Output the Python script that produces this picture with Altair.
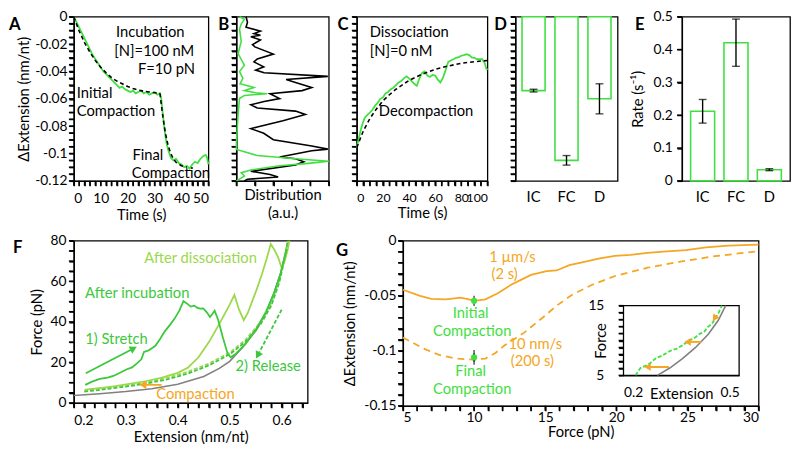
import altair as alt
import pandas as pd

FONT = "Lato"
GREEN = "#40e040"
DKGREEN = "#3cc83c"
LTGREEN = "#9bd84b"
ORANGE = "#f5a623"
GRAY = "#808080"
FS = 15
LFS = 14
TK = 5
TKW = 1.5

# ---------------- Panel A ----------------
a_time = [0, 0.5, 1, 1.5, 2, 2.5, 3, 3.5, 4, 5, 6, 7, 8, 9, 10, 11, 12, 13, 14, 15, 16, 17, 18, 19, 20,
          21, 22, 23, 24, 25, 26, 27, 28, 29, 30, 31, 32, 32.5, 33, 33.5, 34, 34.5, 35, 35.5, 36, 37, 38,
          39, 40, 41, 42, 43, 44, 45, 46, 47, 48, 49, 49.5, 50]
a_ext = [0, -0.002, -0.004, -0.006, -0.008, -0.010, -0.012, -0.014, -0.016, -0.020, -0.024, -0.028,
         -0.031, -0.034, -0.037, -0.040, -0.042, -0.044, -0.046, -0.048, -0.050, -0.052, -0.051, -0.053,
         -0.054, -0.055, -0.054, -0.056, -0.055, -0.054, -0.056, -0.055, -0.057, -0.056, -0.055, -0.057,
         -0.056, -0.060, -0.070, -0.079, -0.087, -0.093, -0.097, -0.100, -0.103, -0.105, -0.104, -0.107,
         -0.108, -0.110, -0.109, -0.111, -0.108, -0.106, -0.107, -0.104, -0.102, -0.101, -0.103, -0.108]
a_fit1_time = [0, 2, 4, 6, 8, 10, 12, 14, 16, 18, 20, 22, 24, 26, 28, 30, 32]
a_fit1_ext = [0, -0.0105, -0.019, -0.026, -0.032, -0.037, -0.041, -0.0445, -0.047, -0.049, -0.051,
              -0.0525, -0.0535, -0.0545, -0.055, -0.0555, -0.056]
a_fit2_time = [32, 33, 34, 35, 36, 37, 38, 40, 42]
a_fit2_ext = [-0.056, -0.072, -0.085, -0.094, -0.100, -0.104, -0.1065, -0.109, -0.110]
a_note_c_text = ["Incubation", "[N]=100 nM", "F=10 pN"]
a_note_c_t = [28.4, 29.9, 34.4]
a_note_c_v = [-0.0111, -0.0252, -0.038]
a_note_l_text = ["Initial", "Compaction", "Final", "Compaction"]
a_note_l_t = [1.1, 1.1, 21.8, 21.5]
a_note_l_v = [-0.0557, -0.0687, -0.101, -0.1142]

# ---------------- Panel B ----------------
b_black_v = [0, -0.004, -0.0076, -0.0105, -0.0123, -0.0135, -0.0146, -0.0169, -0.0204, -0.022, -0.0273,
             -0.0308, -0.033, -0.0366, -0.039, -0.041, -0.0436, -0.0459, -0.048, -0.0517, -0.054, -0.0563,
             -0.0598, -0.062, -0.0644, -0.0667, -0.069, -0.0714, -0.076, -0.0806, -0.0818, -0.0852, -0.0899,
             -0.0945, -0.0968, -0.098, -0.1026, -0.1038, -0.106, -0.1084, -0.113, -0.1154, -0.1172, -0.1188, -0.12]
b_black_d = [0.52, 0.6, 0.52, 1.3, 0.95, 1.3, 0.78, 1.3, 0.87, 1.0, 2.0, 1.13, 0.95, 1.48, 1.04, 1.5, 4.95,
             2.69, 3.2, 4.08, 3.56, 1.82, 2.34, 1.5, 0.78, 1.13, 3.2, 3.73, 2.52, 1.13, 0.78, 1.48, 2.0, 4.08,
             4.95, 4.08, 2.34, 3.2, 3.65, 3.2, 0.78, 1.82, 2.26, 0.6, 0.43]
b_green_v = [0, -0.0019, -0.0053, -0.009, -0.018, -0.027, -0.0354, -0.040, -0.045, -0.049, -0.0517, -0.054,
             -0.0556, -0.0563, -0.0575, -0.0598, -0.0714, -0.092, -0.097, -0.1015, -0.1038, -0.1056, -0.1072,
             -0.109, -0.112, -0.114, -0.1165, -0.12]
b_green_d = [0.17, 0.43, 0.26, 0.17, 0.26, 0.09, 0.43, 0.17, 0.35, 0.2, 0.95, 0.43, 1.04, 1.65, 0.43, 0.17,
             0.09, 0.0, 0.0, 1.13, 3.2, 5.0, 3.9, 2.34, 0.78, 0.26, 0.43, 0.0]

# ---------------- Panel C ----------------
c_time = [0, 1.5, 3, 4.5, 6, 8, 10, 12, 14, 16, 18, 20, 22, 24, 26, 28, 30, 32, 34, 36, 38, 40, 42, 44, 46,
          48, 50, 52, 54, 56, 58, 60, 62, 64, 66, 68, 70, 72, 74, 76, 78, 80, 82, 84, 86, 88, 90, 92, 94,
          96, 98, 99, 100]
c_ext = [-0.0957, -0.089, -0.083, -0.078, -0.074, -0.072, -0.070, -0.068, -0.065, -0.063, -0.060, -0.059,
         -0.056, -0.055, -0.053, -0.052, -0.050, -0.048, -0.047, -0.045, -0.0436, -0.045, -0.047, -0.049,
         -0.0505, -0.045, -0.041, -0.040, -0.043, -0.044, -0.0425, -0.043, -0.046, -0.048, -0.0445, -0.039,
         -0.033, -0.032, -0.031, -0.030, -0.0295, -0.0285, -0.028, -0.0273, -0.028, -0.0297, -0.030, -0.031,
         -0.031, -0.031, -0.034, -0.0375, -0.039]
c_fit_time = [0, 5, 10, 15, 20, 25, 30, 40, 50, 60, 70, 80, 90, 100]
c_fit_ext = [-0.0957, -0.0835, -0.0745, -0.0675, -0.0615, -0.057, -0.053, -0.0465, -0.042, -0.0385,
             -0.036, -0.034, -0.0328, -0.032]
c_note_text = ["Dissociation", "[N]=0 nM", "Decompaction"]
c_note_t = [9.9, 9.9, 16.9]
c_note_v = [-0.0109, -0.0248, -0.0687]

# ---------------- Panels D, E ----------------
cats = ["IC", "FC", "D"]
d_mean = [-0.054, -0.105, -0.060]
d_err = [0.001, 0.0035, 0.011]
e_mean = [0.212, 0.421, 0.034]
e_err = [0.036, 0.072, 0.003]

# ---------------- Panel F ----------------
f_wlc_ext = [0.2, 0.25, 0.3, 0.35, 0.4, 0.45, 0.48, 0.5, 0.525, 0.55, 0.57, 0.585, 0.598, 0.608, 0.614]
f_wlc_force = [3.6, 4.5, 5.6, 7.0, 9.2, 13.0, 17.0, 20.5, 27.5, 35.5, 44.5, 54, 64, 75, 82]
f_rel_ext = [0.22, 0.26, 0.3, 0.34, 0.38, 0.42, 0.46, 0.5, 0.53, 0.56, 0.58, 0.595, 0.605, 0.612]
f_rel1_force = [5.5, 6.8, 8.0, 9.6, 11.6, 14.5, 18.5, 24.0, 30, 39, 48, 59, 70, 80]
f_rel2_force = [6.2, 7.4, 8.7, 10.3, 12.4, 15.4, 19.4, 24.8, 31, 40, 49, 60, 71, 80]
f_inc_ext = [0.222, 0.235, 0.25, 0.265, 0.276, 0.29, 0.301, 0.312, 0.322, 0.33, 0.335, 0.344, 0.357, 0.366,
             0.375, 0.385, 0.394, 0.403, 0.411, 0.418, 0.425, 0.432, 0.437, 0.443, 0.449, 0.456, 0.462, 0.467,
             0.471, 0.478, 0.487, 0.496, 0.502, 0.512, 0.53, 0.55, 0.57, 0.585, 0.598, 0.61]
f_inc_force = [8.9, 10.5, 11.8, 12.5, 13.3, 15.0, 16.5, 17.5, 19.6, 21.5, 25.1, 25.9, 28.2, 31.5, 35.3, 38.5,
               41.6, 45.5, 50.2, 49, 47.5, 48, 47, 46.5, 46.6, 44.7, 42.4, 44, 45.5, 40.8, 32.1, 24.3, 22.5,
               24.3, 29, 36, 45, 54, 64, 76]
f_dis_ext = [0.222, 0.25, 0.28, 0.31, 0.34, 0.37, 0.40, 0.42, 0.44, 0.46, 0.48, 0.50, 0.509, 0.518, 0.527,
             0.535, 0.543, 0.552, 0.562, 0.571, 0.579, 0.586, 0.593, 0.600, 0.606, 0.612, 0.618]
f_dis_force = [6.5, 7.3, 8.3, 9.5, 10.8, 12.5, 14.8, 17.5, 22.5, 30, 39, 48.5, 53.3, 46, 40.8, 44.5, 50, 56,
               63.5, 71, 78.4, 75.5, 72, 66.5, 70, 76, 84]
f_note_text = ["After dissociation", "After incubation", "1) Stretch", "2) Release", "Compaction"]
f_note_ext = [0.444, 0.322, 0.282, 0.574, 0.434]
f_note_force = [71.3, 54.1, 31.3, 18.0, 4.4]
f_note_color = [LTGREEN, DKGREEN, DKGREEN, DKGREEN, ORANGE]
f_arrow_name = ["stretch", "release", "compaction"]
f_arrow_x = [0.223, 0.600, 0.369]
f_arrow_y = [14.6, 46.0, 8.9]
f_arrow_x2 = [0.313, 0.555, 0.335]
f_arrow_y2 = [26.6, 24.0, 8.9]

# ---------------- Panel G ----------------
g_fast_force = [5, 6.2, 7, 8, 8.5, 9, 9.5, 10, 10.8, 11.7, 12.6, 13.3, 14, 15.1, 15.8, 16.7, 17.6, 18.75,
                19.9, 21, 22.2, 23.3, 24.9, 26.3, 27.9, 30]
g_fast_ext = [-0.0445, -0.050, -0.0528, -0.0532, -0.0525, -0.0517, -0.0528, -0.0546, -0.0532, -0.0474,
              -0.040, -0.0355, -0.031, -0.0275, -0.027, -0.0222, -0.0196, -0.0162, -0.0138, -0.0128, -0.011,
              -0.0098, -0.0085, -0.006, -0.0045, -0.0035]
g_slow_force = [5, 6.46, 7.6, 8.7, 10, 10.8, 11.5, 12.15, 13.5, 14.9, 15.8, 16.9, 18.3, 19.9, 22.2, 24.5,
                26.7, 28.6, 30]
g_slow_ext = [-0.0879, -0.098, -0.104, -0.107, -0.108, -0.107, -0.102, -0.095, -0.0837, -0.069, -0.059,
              -0.049, -0.040, -0.032, -0.0245, -0.019, -0.0144, -0.0115, -0.0095]
g_pt_force = [10, 10]
g_pt_ext = [-0.0546, -0.106]
g_pt_err = [0.0015, 0.0036]
g_note_text = ["1 µm/s", "(2 s)", "10 nm/s", "(200 s)", "Initial", "Compaction", "Final", "Compaction"]
g_note_force = [12.7, 12.15, 14.3, 14.1, 9.76, 9.87, 9.76, 9.87]
g_note_ext = [-0.015, -0.0306, -0.0942, -0.1095, -0.0653, -0.0821, -0.118, -0.135]
g_note_color = [ORANGE, ORANGE, ORANGE, ORANGE, GREEN, GREEN, GREEN, GREEN]
# inset
gi_wlc_ext = [0.288, 0.32, 0.353, 0.387, 0.42, 0.446, 0.465]
gi_wlc_force = [5, 6.05, 7.4, 9.0, 10.9, 12.9, 15]
gi_rel_ext = [0.231, 0.244, 0.258, 0.269, 0.285, 0.303, 0.32, 0.337, 0.353, 0.37, 0.383, 0.396, 0.41, 0.42,
              0.43, 0.438, 0.447, 0.455]
gi_rel_force = [5, 6.05, 6.4, 6.74, 7.5, 7.9, 8.5, 8.8, 9.3, 10, 10.3, 10.9, 11.3, 12, 12.4, 13.2, 14.0, 15]
gi_arrow_x = [0.318, 0.402, 0.447]
gi_arrow_y = [6.2, 9.8, 14.0]
gi_arrow_x2 = [0.265, 0.369, 0.438]
gi_arrow_y2 = [6.2, 9.8, 13.3]


# ---------------- helpers ----------------
def tick_values(lo, hi, step):
    n = int(round((hi - lo) / step))
    return [round(lo + i * step, 4) for i in range(n + 1)]


def every(mult):
    return ("abs(datum.value * %s - round(datum.value * %s)) < 0.001 ? '' + datum.value : ''"
            % (mult, mult))


def ax(**kw):
    base = dict(labelOverlap=False, ticks=True, tickSize=TK, tickColor="#000000", tickWidth=TKW,
                tickOpacity=1, grid=False, labelFontSize=LFS)
    base.update(kw)
    return alt.Axis(**base)


def enc(channel, scale, axis):
    def make(field):
        return channel(field, scale=scale, axis=axis)
    return make


def yticks(vals, Y, field, x_px=0):
    # tick marks drawn outward on a left axis, placed by the y scale
    return alt.Chart(pd.DataFrame({field: vals})).mark_tick(
        orient="horizontal", size=TK, thickness=TKW, color="black", opacity=1
    ).encode(x=alt.value(x_px - TK / 2), y=Y(field + ":Q"))


def xticks(vals, X, field, height):
    # tick marks drawn outward on a bottom axis, placed by the x scale
    return alt.Chart(pd.DataFrame({field: vals})).mark_tick(
        orient="vertical", size=TK, thickness=TKW, color="black", opacity=1
    ).encode(x=X(field + ":Q"), y=alt.value(height + TK / 2))


def letter(ch, dx, dy):
    return alt.Chart(pd.DataFrame({"lt": [ch]})).mark_text(
        fontWeight="bold", fontSize=17, align="center", baseline="middle", color="black", font=FONT
    ).encode(x=alt.value(dx), y=alt.value(dy), text="lt:N")


def ordered(xs, ys, xn, yn):
    return pd.DataFrame({xn: xs, yn: ys, "i": list(range(len(xs)))})


# ---------------- sizes ----------------
H_TOP = 167
W_A, W_B, W_C, W_D, W_E = 137, 94, 133, 104, 110
W_F, H_F = 238, 165
W_G, H_G = 362, 168

ext_ticks = tick_values(-0.12, 0, 0.005)
y_ext_scale = alt.Scale(domain=[-0.12, 0], nice=False, zero=False)

# ---------------- A ----------------
a_xt = tick_values(0, 50, 2)
XA = enc(alt.X, alt.Scale(domain=[0, 50], nice=False),
         ax(values=a_xt, labelExpr=every(0.1), title="Time (s)", labelPadding=6, titlePadding=2))
YA = enc(alt.Y, y_ext_scale,
         ax(values=ext_ticks, labelExpr=every(50), title="ΔExtension (nm/nt)", labelPadding=2, titlePadding=3))
A = alt.layer(
    yticks(ext_ticks, YA, "v"),
    xticks(a_xt, XA, "t", H_TOP),
    alt.Chart(pd.DataFrame({"t": a_time, "v": a_ext})).mark_line(color=GREEN, strokeWidth=1.8).encode(
        x=XA("t:Q"), y=YA("v:Q")),
    alt.Chart(pd.DataFrame({"t": a_fit1_time, "v": a_fit1_ext})).mark_line(
        color="black", strokeWidth=1.6, strokeDash=[4, 3]).encode(x=XA("t:Q"), y=YA("v:Q")),
    alt.Chart(pd.DataFrame({"t": a_fit2_time, "v": a_fit2_ext})).mark_line(
        color="black", strokeWidth=1.6, strokeDash=[4, 3]).encode(x=XA("t:Q"), y=YA("v:Q")),
    alt.Chart(pd.DataFrame({"t": a_note_c_t, "v": a_note_c_v, "s": a_note_c_text})).mark_text(
        fontSize=FS, font=FONT, align="center", baseline="middle", color="black").encode(
        x=XA("t:Q"), y=YA("v:Q"), text="s:N"),
    alt.Chart(pd.DataFrame({"t": a_note_l_t, "v": a_note_l_v, "s": a_note_l_text})).mark_text(
        fontSize=FS, font=FONT, align="left", baseline="middle", color="black").encode(
        x=XA("t:Q"), y=YA("v:Q"), text="s:N"),
    letter("A", -60, 8),
).properties(width=W_A, height=H_TOP)

# ---------------- B ----------------
b_xt = [0, 1, 2, 3, 4, 5]
XB = enc(alt.X, alt.Scale(domain=[0, 5], nice=False),
         ax(values=b_xt, labels=False, title=["Distribution", "(a.u.)"], titlePadding=1, titleLineHeight=19))
YB = enc(alt.Y, y_ext_scale, ax(values=ext_ticks, labels=False, title=None))
B = alt.layer(
    yticks(ext_ticks, YB, "v"),
    xticks(b_xt, XB, "d", H_TOP),
    alt.Chart(ordered(b_black_d, b_black_v, "d", "v")).mark_line(color="black", strokeWidth=1.6).encode(
        x=XB("d:Q"), y=YB("v:Q"), order="i:Q"),
    alt.Chart(ordered(b_green_d, b_green_v, "d", "v")).mark_line(color=GREEN, strokeWidth=1.6).encode(
        x=XB("d:Q"), y=YB("v:Q"), order="i:Q"),
    letter("B", -13, 8),
).properties(width=W_B, height=H_TOP)

# ---------------- C ----------------
c_xt = tick_values(0, 100, 5)
XC = enc(alt.X, alt.Scale(domain=[0, 100], nice=False),
         ax(values=c_xt, labelExpr=every(0.05), title="Time (s)", labelPadding=6, titlePadding=2,
            labelFontSize=12.5))
YC = enc(alt.Y, y_ext_scale, ax(values=ext_ticks, labels=False, title=None))
C = alt.layer(
    yticks(ext_ticks, YC, "v"),
    xticks(c_xt, XC, "t", H_TOP),
    alt.Chart(pd.DataFrame({"t": c_time, "v": c_ext})).mark_line(color=GREEN, strokeWidth=1.8).encode(
        x=XC("t:Q"), y=YC("v:Q")),
    alt.Chart(pd.DataFrame({"t": c_fit_time, "v": c_fit_ext})).mark_line(
        color="black", strokeWidth=1.6, strokeDash=[4, 3]).encode(x=XC("t:Q"), y=YC("v:Q")),
    alt.Chart(pd.DataFrame({"t": c_note_t, "v": c_note_v, "s": c_note_text})).mark_text(
        fontSize=FS, font=FONT, align="left", baseline="middle", color="black").encode(
        x=XC("t:Q"), y=YC("v:Q"), text="s:N"),
    letter("C", -14, 8),
).properties(width=W_C, height=H_TOP)


# ---------------- D / E ----------------
def bar_panel(means, errs, yscale, yaxis, ytick_vals, width, letter_ch, letter_dx, pi, po):
    df = pd.DataFrame({"cat": cats, "m": means})
    lo = pd.DataFrame({"cat": cats, "m": [m - e for m, e in zip(means, errs)],
                       "m2": [m + e for m, e in zip(means, errs)]})
    hi = pd.DataFrame({"cat": cats, "m": [m + e for m, e in zip(means, errs)]})
    Y = enc(alt.Y, yscale, yaxis)
    xcat = alt.X("cat:N", sort=cats, scale=alt.Scale(paddingInner=pi, paddingOuter=po),
                 axis=ax(labelAngle=0, ticks=False, domain=False, title=None, labelPadding=9, labelFontSize=FS))
    return alt.layer(
        alt.Chart(df).mark_bar(fill="white", stroke=GREEN, strokeWidth=1.6).encode(x=xcat, y=Y("m:Q")),
        yticks(ytick_vals, Y, "m"),
        alt.Chart(lo).mark_rule(color="black", strokeWidth=1.4).encode(x=alt.X("cat:N", sort=cats), y=Y("m:Q"),
                                                                       y2="m2:Q"),
        alt.Chart(lo).mark_tick(color="black", thickness=1.4, size=8).encode(x=alt.X("cat:N", sort=cats),
                                                                             y=Y("m:Q")),
        alt.Chart(hi).mark_tick(color="black", thickness=1.4, size=8).encode(x=alt.X("cat:N", sort=cats),
                                                                             y=Y("m:Q")),
        letter(letter_ch, letter_dx, 8),
    ).properties(width=width, height=H_TOP)


e_yt = tick_values(0, 0.5, 0.1)
D = bar_panel(d_mean, d_err, y_ext_scale, ax(values=ext_ticks, labels=False, title=None), ext_ticks,
              W_D, "D", -15, 0.3, 0.2)
E = bar_panel(e_mean, e_err, alt.Scale(domain=[0, 0.5], nice=False),
              ax(values=e_yt, labelExpr="'' + datum.value", title="Rate (s⁻¹)", labelPadding=5, titlePadding=8),
              e_yt, W_E, "E", -43, 0.28, 0.26)

# ---------------- F ----------------
f_xt = tick_values(0.2, 0.64, 0.02)
f_yt = tick_values(0, 80, 5)
XF = enc(alt.X, alt.Scale(domain=[0.2, 0.65], nice=False, zero=False),
         ax(values=f_xt, labelExpr=every(10), title="Extension (nm/nt)", labelPadding=6, titlePadding=2))
YF = enc(alt.Y, alt.Scale(domain=[0, 80], nice=False),
         ax(values=f_yt, labelExpr=every(0.05), title="Force (pN)", labelPadding=3, titlePadding=6))


def fline(xs, ys, color, dash=None, width=1.8):
    kw = dict(color=color, strokeWidth=width, clip=True)
    if dash:
        kw["strokeDash"] = dash
    return alt.Chart(ordered(xs, ys, "e", "f")).mark_line(**kw).encode(x=XF("e:Q"), y=YF("f:Q"), order="i:Q")


f_arrows = pd.DataFrame({"name": f_arrow_name, "e": f_arrow_x, "f": f_arrow_y, "e2": f_arrow_x2, "f2": f_arrow_y2})
f_heads = pd.DataFrame({"name": f_arrow_name, "e": f_arrow_x2, "f": f_arrow_y2})
f_notes = pd.DataFrame({"e": f_note_ext, "f": f_note_force, "s": f_note_text, "c": f_note_color})


def farrow(name, color, angle, dash=None):
    d = f_arrows[f_arrows["name"] == name]
    h = f_heads[f_heads["name"] == name]
    kw = dict(color=color, strokeWidth=1.8)
    if dash:
        kw["strokeDash"] = dash
    return [
        alt.Chart(d).mark_rule(**kw).encode(x=XF("e:Q"), y=YF("f:Q"), x2="e2:Q", y2="f2:Q"),
        alt.Chart(h).mark_point(shape="triangle", filled=True, size=70, angle=angle, color=color,
                                opacity=1).encode(x=XF("e:Q"), y=YF("f:Q")),
    ]


F = alt.layer(
    yticks(f_yt, YF, "f"),
    xticks(f_xt, XF, "e", H_F),
    fline(f_wlc_ext, f_wlc_force, GRAY, width=1.6),
    fline(f_rel_ext, f_rel2_force, LTGREEN, dash=[4, 2]),
    fline(f_rel_ext, f_rel1_force, DKGREEN, dash=[4, 2]),
    fline(f_dis_ext, f_dis_force, LTGREEN),
    fline(f_inc_ext, f_inc_force, DKGREEN),
    *farrow("stretch", DKGREEN, 63),
    *farrow("release", DKGREEN, 208, dash=[4, 2]),
    *farrow("compaction", ORANGE, 270),
    alt.Chart(f_notes).mark_text(fontSize=FS, font=FONT, align="center", baseline="middle").encode(
        x=XF("e:Q"), y=YF("f:Q"), text="s:N", color=alt.Color("c:N", scale=None)),
    letter("F", -57, 7),
).properties(width=W_F, height=H_F)

# ---------------- G ----------------
g_xt = tick_values(5, 30, 1)
g_yt = tick_values(-0.15, 0, 0.01)
XG = enc(alt.X, alt.Scale(domain=[5, 30], nice=False, zero=False),
         ax(values=g_xt, labelExpr=every(0.2), title="Force (pN)", labelPadding=0, titlePadding=0))
YG = enc(alt.Y, alt.Scale(domain=[-0.15, 0], nice=False, zero=False),
         ax(values=g_yt, labelExpr=every(20), title="ΔExtension (nm/nt)", labelPadding=2, titlePadding=6))
g_pts = pd.DataFrame({"gf": g_pt_force, "gv": g_pt_ext})
g_lo = pd.DataFrame({"gf": g_pt_force, "gv": [v - e for v, e in zip(g_pt_ext, g_pt_err)],
                     "gv2": [v + e for v, e in zip(g_pt_ext, g_pt_err)]})
g_hi = pd.DataFrame({"gf": g_pt_force, "gv": [v + e for v, e in zip(g_pt_ext, g_pt_err)]})
g_notes = pd.DataFrame({"gf": g_note_force, "gv": g_note_ext, "s": g_note_text, "c": g_note_color})

G_main = alt.layer(
    yticks(g_yt, YG, "gv"),
    xticks(g_xt, XG, "gf", H_G),
    alt.Chart(pd.DataFrame({"gf": g_fast_force, "gv": g_fast_ext})).mark_line(color=ORANGE, strokeWidth=1.8).encode(
        x=XG("gf:Q"), y=YG("gv:Q")),
    alt.Chart(pd.DataFrame({"gf": g_slow_force, "gv": g_slow_ext})).mark_line(
        color=ORANGE, strokeWidth=1.8, strokeDash=[7, 5]).encode(x=XG("gf:Q"), y=YG("gv:Q")),
    alt.Chart(g_lo).mark_rule(color="black", strokeWidth=1.4).encode(x=XG("gf:Q"), y=YG("gv:Q"), y2="gv2:Q"),
    alt.Chart(g_lo).mark_tick(color="black", thickness=1.4, size=7).encode(x=XG("gf:Q"), y=YG("gv:Q")),
    alt.Chart(g_hi).mark_tick(color="black", thickness=1.4, size=7).encode(x=XG("gf:Q"), y=YG("gv:Q")),
    alt.Chart(g_pts).mark_point(shape="circle", filled=True, size=40, color=GREEN, opacity=1).encode(
        x=XG("gf:Q"), y=YG("gv:Q")),
    alt.Chart(g_notes).mark_text(fontSize=FS, font=FONT, align="center", baseline="middle").encode(
        x=XG("gf:Q"), y=YG("gv:Q"), text="s:N", color=alt.Color("c:N", scale=None)),
    letter("G", -62, 10),
)

# inset (own scales placed inside G's plot area)
INSET_X0 = 224.5
gi_yt = tick_values(5, 15, 1)
XI = enc(alt.X, alt.Scale(domain=[0.2, 0.5], range=[INSET_X0, 342.2], nice=False, zero=False),
         ax(orient="bottom", offset=-31, values=[0.2, 0.5], ticks=False,
            labelExpr="'' + datum.value", labelPadding=11, title="Extension", titleY=19, titleBaseline="middle"))
YI = enc(alt.Y, alt.Scale(domain=[5, 15], range=[137, 66], nice=False, zero=False),
         ax(orient="left", offset=-INSET_X0, values=gi_yt,
            labelExpr="datum.value == 5 || datum.value == 15 ? '' + datum.value : ''",
            labelPadding=15, title="Force", titleX=-15, titleBaseline="bottom"))
gi_arrows = pd.DataFrame({"ix": gi_arrow_x, "iy": gi_arrow_y, "ix2": gi_arrow_x2, "iy2": gi_arrow_y2})
gi_heads = pd.DataFrame({"ix": gi_arrow_x2, "iy": gi_arrow_y2})
G_inset = alt.layer(
    alt.Chart(pd.DataFrame({"ix": [0.2], "ix2": [0.5], "iy": [5], "iy2": [15]})).mark_rect(
        fill="white", stroke="black", strokeWidth=1.3).encode(x=XI("ix:Q"), x2="ix2:Q", y=YI("iy:Q"), y2="iy2:Q"),
    yticks(gi_yt, YI, "iy", x_px=INSET_X0),
    alt.Chart(pd.DataFrame({"ix": gi_wlc_ext, "iy": gi_wlc_force})).mark_line(color=GRAY, strokeWidth=1.6).encode(
        x=XI("ix:Q"), y=YI("iy:Q")),
    alt.Chart(pd.DataFrame({"ix": gi_rel_ext, "iy": gi_rel_force})).mark_line(
        color=GREEN, strokeWidth=1.8, strokeDash=[4, 2]).encode(x=XI("ix:Q"), y=YI("iy:Q")),
    alt.Chart(gi_arrows.iloc[:2]).mark_rule(color=ORANGE, strokeWidth=2).encode(
        x=XI("ix:Q"), y=YI("iy:Q"), x2="ix2:Q", y2="iy2:Q"),
    alt.Chart(gi_heads.iloc[:2]).mark_point(shape="triangle", filled=True, size=60, angle=270, color=ORANGE,
                                            opacity=1).encode(x=XI("ix:Q"), y=YI("iy:Q")),
    alt.Chart(gi_heads.iloc[2:]).mark_point(shape="triangle", filled=True, size=60, angle=215, color=ORANGE,
                                            opacity=1).encode(x=XI("ix:Q"), y=YI("iy:Q")),
)

G = alt.layer(G_main, G_inset).resolve_scale(x="independent", y="independent").properties(
    width=W_G, height=H_G)

# ---------------- layout ----------------
top_inner = alt.hconcat(A, B, C, D, spacing=28.5, bounds="flush")
top = alt.hconcat(top_inner, E, spacing=10)
bottom = alt.hconcat(F, G, spacing=97, bounds="flush")

chart = alt.vconcat(top, bottom, spacing=10).properties(
    padding={"left": 0, "top": -3, "right": 0, "bottom": 0}
).configure(
    font=FONT
).configure_view(
    stroke="black", strokeWidth=1.3
).configure_axis(
    labelFont=FONT, titleFont=FONT, labelFontSize=LFS, titleFontSize=FS, titleFontWeight="normal",
    labelColor="black", titleColor="black", tickColor="#000000", domainColor="black",
    tickSize=TK, tickWidth=TKW, domainWidth=1.3, grid=False, labelOverlap=False
)

chart.save("out.html", embed_options={"renderer": "svg", "actions": False})
